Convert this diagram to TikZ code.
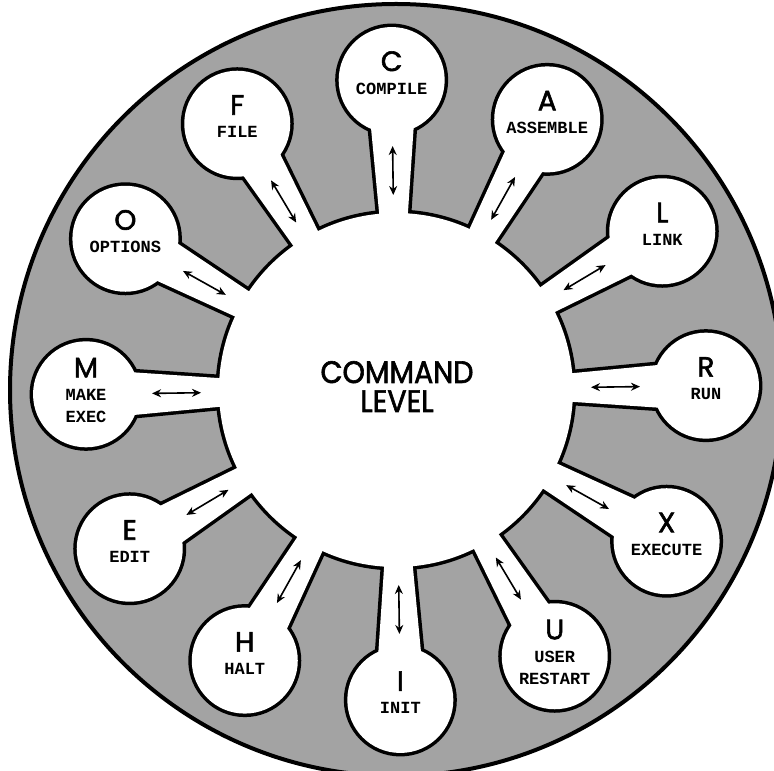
\documentclass[tikz,border=0pt]{standalone}
\usepackage{fontspec}
\setmonofont{Liberation Mono}
\newfontfamily\geofont{Poppins}[FakeBold=2]
\usetikzlibrary{arrows.meta,calc}
\definecolor{stipple}{gray}{0.64}
\tikzset{
  ink/.style={draw=black,line width=7pt,line join=round},
  paper/.style={fill=white},
  rim/.style={fill=stipple,draw=black,line width=4pt},
  bigletter/.style={font=\geofont\fontsize{28}{28}\selectfont,anchor=base,inner sep=0pt},
  word/.style={font=\ttfamily\bfseries\fontsize{17}{17}\selectfont,anchor=base,inner sep=0pt},
  title/.style={font=\geofont\fontsize{31}{31}\selectfont,anchor=base,inner sep=0pt,xscale=0.92},
  link/.style={{Stealth[length=9pt,width=8pt]}-{Stealth[length=9pt,width=8pt]},line width=1.6pt}
}
\begin{document}
\begin{tikzpicture}[x=1pt,y=1pt]
\useasboundingbox (0,0) rectangle (774,771);
\clip (0,0) rectangle (774,771);
\coordinate (O) at (396,381);
% grey disk
\path[rim] (O) circle[radius=386pt];
% black outline pass
\draw[ink] (O) circle[radius=177pt];
\foreach \k in {0,...,11}{
  \pgfmathsetmacro\ang{90.8-30*\k}
  \draw[ink,shift={(O)}] (\ang-4.65:100pt) -- (\ang-4.65:310pt) -- (\ang+4.65:310pt) -- (\ang+4.65:100pt) -- cycle;
  \draw[ink,shift={(O)}] (\ang:310pt) circle[radius=53pt];
}
% white pass
\fill[paper] (O) circle[radius=177pt];
\foreach \k/\nm in {0/cmp,1/asm,2/lnk,3/run,4/exe,5/usr,6/ini,7/hlt,8/edt,9/mke,10/opt,11/fil}{
  \pgfmathsetmacro\ang{90.8-30*\k}
  \fill[paper,shift={(O)}] (\ang-4.65:100pt) -- (\ang-4.65:310pt) -- (\ang+4.65:310pt) -- (\ang+4.65:100pt) -- cycle;
  \fill[paper,shift={(O)}] (\ang:310pt) circle[radius=53pt];
  \coordinate (b\nm) at ($(O)+(\ang:310pt)$);
  \coordinate (ai\nm) at ($(O)+(\ang:195pt)$);
  \coordinate (ao\nm) at ($(O)+(\ang:244pt)$);
}
% arrows
\foreach \nm in {cmp,asm,lnk,run,exe,usr,ini,hlt,edt,mke,opt,fil}{
  \draw[link] (ai\nm) -- (ao\nm);
}
% single-line bulbs
\foreach \nm/\L/\W in {cmp/C/COMPILE,asm/A/ASSEMBLE,lnk/L/LINK,run/R/RUN,exe/X/EXECUTE,ini/I/INIT,hlt/H/HALT,edt/E/EDIT,opt/O/OPTIONS,fil/F/FILE}{
  \node[bigletter] (l\nm) at ($(b\nm)+(0,9pt)$) {\L};
  \node[word] (w\nm) at ($(b\nm)+(0,-14pt)$) {\W};
}
% two-line bulbs
\node[bigletter] (lmke) at ($(bmke)+(0,17pt)$) {M};
\node[word] (wmkea) at ($(bmke)+(0,-6pt)$) {MAKE};
\node[word] (wmkeb) at ($(bmke)+(0,-28pt)$) {EXEC};
\node[bigletter] (lusr) at ($(busr)+(0,17pt)$) {U};
\node[word] (wusra) at ($(busr)+(0,-6pt)$) {USER};
\node[word] (wusrb) at ($(busr)+(0,-28pt)$) {RESTART};
% centre title
\node[title] (cmd) at (397,388) {COMMAND};
\node[title] (lvl) at (397,359) {LEVEL};
\end{tikzpicture}
\end{document}
